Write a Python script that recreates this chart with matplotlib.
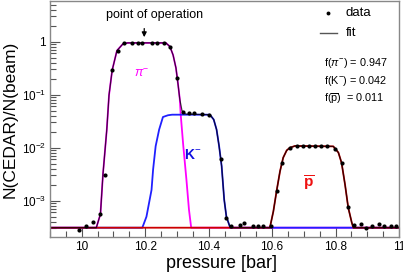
import numpy as np
import matplotlib
matplotlib.use("Agg")
import matplotlib.pyplot as plt
from matplotlib.ticker import FixedLocator, LogLocator, NullFormatter, FuncFormatter

plt.rcParams['font.family'] = ['Liberation Sans', 'DejaVu Sans']
plt.rcParams['mathtext.fontset'] = 'custom'
plt.rcParams['mathtext.rm'] = 'Liberation Sans'
plt.rcParams['mathtext.it'] = 'Liberation Sans:italic'
plt.rcParams['mathtext.bf'] = 'Liberation Sans:bold'

# measured points
data_x = [9.991, 10.014, 10.036, 10.059, 10.073, 10.096, 10.115, 10.132, 10.160, 10.176,
          10.191, 10.220, 10.236, 10.259, 10.278, 10.300, 10.319, 10.339, 10.354, 10.378,
          10.401, 10.438, 10.454, 10.471, 10.500, 10.512, 10.540, 10.556, 10.571, 10.598,
          10.614, 10.630, 10.656, 10.680, 10.698, 10.716, 10.735, 10.753, 10.772, 10.798,
          10.819, 10.840, 10.859, 10.879, 10.896, 10.914, 10.937, 10.953, 10.974, 10.990]
data_y = [2.8e-4, 3.4e-4, 3.9e-4, 5.6e-4, 3.1e-3, 0.29, 0.68, 0.93, 0.95, 0.95,
          0.95, 0.95, 0.95, 0.95, 0.80, 0.21, 0.047, 0.045, 0.045, 0.044,
          0.042, 6.0e-3, 4.8e-4, 3.4e-4, 3.5e-4, 3.8e-4, 3.4e-4, 3.4e-4, 3.4e-4, 3.4e-4,
          1.5e-3, 5.2e-3, 9.8e-3, 0.0108, 0.0108, 0.0108, 0.0108, 0.0108, 0.0108, 0.0093,
          5.2e-3, 7.5e-4, 3.5e-4, 3.6e-4, 3.0e-4, 3.4e-4, 3.6e-4, 3.4e-4, 3.4e-4, 3.4e-4]

# fit components
pi_x = [9.9, 10.046, 10.059, 10.067, 10.079, 10.086, 10.096, 10.111, 10.130, 10.145,
        10.265, 10.278, 10.288, 10.297, 10.304, 10.309, 10.312, 10.320, 10.330, 10.338, 10.345, 11.0]
pi_y = [3.1e-4, 3.1e-4, 5.6e-4, 3.2e-3, 0.022, 0.098, 0.29, 0.68, 0.91, 0.95,
        0.95, 0.81, 0.56, 0.32, 0.15, 0.083, 0.042, 0.011, 2.5e-3, 6.8e-4, 3.1e-4, 3.1e-4]

k_x = [9.9, 10.191, 10.204, 10.220, 10.225, 10.233, 10.244, 10.256, 10.272, 10.285,
       10.404, 10.416, 10.425, 10.433, 10.441, 10.449, 10.456, 10.468, 11.0]
k_y = [3.1e-4, 3.1e-4, 5.0e-4, 1.6e-3, 3.9e-3, 0.0107, 0.022, 0.038, 0.041, 0.042,
       0.042, 0.034, 0.022, 0.0107, 4.5e-3, 1.05e-3, 5.0e-4, 3.1e-4, 3.1e-4]

pbar_x = [9.9, 10.593, 10.604, 10.614, 10.625, 10.635, 10.646, 10.656, 10.672,
          10.793, 10.809, 10.819, 10.830, 10.840, 10.851, 10.856, 11.0]
pbar_y = [3.1e-4, 3.1e-4, 6.3e-4, 1.5e-3, 3.6e-3, 6.5e-3, 8.9e-3, 0.010, 0.0108,
          0.0106, 8.1e-3, 5.2e-3, 2.0e-3, 7.4e-4, 3.9e-4, 3.1e-4, 3.1e-4]

fit_x = [9.9, 10.046, 10.059, 10.067, 10.079, 10.086, 10.096, 10.111, 10.130, 10.145,
         10.265, 10.278, 10.288, 10.297, 10.304, 10.309, 10.316, 10.325, 10.33,
         10.404, 10.416, 10.425, 10.433, 10.441, 10.449, 10.456, 10.468,
         10.593, 10.604, 10.614, 10.625, 10.635, 10.646, 10.656, 10.672,
         10.793, 10.809, 10.819, 10.830, 10.840, 10.851, 10.856, 11.0]
fit_y = [3.1e-4, 3.1e-4, 5.6e-4, 3.2e-3, 0.022, 0.098, 0.29, 0.68, 0.91, 0.95,
         0.95, 0.81, 0.56, 0.32, 0.15, 0.083, 0.05, 0.044, 0.043,
         0.042, 0.034, 0.022, 0.0107, 4.5e-3, 1.05e-3, 5.0e-4, 3.1e-4,
         3.1e-4, 6.3e-4, 1.5e-3, 3.6e-3, 6.5e-3, 8.9e-3, 0.010, 0.0108,
         0.0106, 8.1e-3, 5.2e-3, 2.0e-3, 7.4e-4, 3.9e-4, 3.1e-4, 3.1e-4]

fractions = ["f($\\pi^{-}$) = 0.947", "f(K$^{-}$) = 0.042", "f($\\overline{\\mathrm{p}}$)  = 0.011"]

fig = plt.figure(figsize=(4.03, 2.74), dpi=100)
ax = fig.add_axes([50/403, 37/274, 349/403, 236/274])

ax.plot(pi_x, pi_y, color='#ff00ff', lw=1.3)
ax.plot(k_x, k_y, color='#2020ff', lw=1.3)
ax.plot(pbar_x, pbar_y, color='#cc0000', lw=1.3)
ax.plot(fit_x, fit_y, color='black', lw=0.9, alpha=0.75)
ax.plot(data_x, data_y, 'o', color='black', ms=3.0, mew=0)

ax.set_yscale('log')
ax.set_xlim(9.9, 11.0)
ax.set_ylim(2.07e-4, 5.86)

ax.xaxis.set_major_locator(FixedLocator([10, 10.2, 10.4, 10.6, 10.8, 11]))
ax.xaxis.set_minor_locator(FixedLocator(np.arange(9.9, 11.001, 0.05)))
ax.xaxis.set_major_formatter(FuncFormatter(lambda v, p: "%g" % round(v, 1)))
ax.yaxis.set_major_locator(LogLocator(base=10, numticks=10))
ax.yaxis.set_minor_locator(LogLocator(base=10, subs=np.arange(2, 10), numticks=20))
ax.yaxis.set_minor_formatter(NullFormatter())

def ylab(v, p):
    e = int(round(np.log10(v)))
    if e == 0:
        return "1"
    return "$10^{%d}$" % e
ax.yaxis.set_major_formatter(FuncFormatter(ylab))

ax.tick_params(which='both', direction='in', top=False, right=False, color='#555555',
               labelsize=8.5, width=0.8)
ax.tick_params(which='major', length=7, pad=3)
ax.tick_params(which='minor', length=4)
for s in ax.spines.values():
    s.set_color('#888888')
    s.set_linewidth(1.0)

ax.set_xlabel("pressure [bar]", fontsize=13)
ax.xaxis.set_label_coords(0.49, -0.075)
ax.set_ylabel("N(CEDAR)/N(beam)", fontsize=12.5, va='center')
ax.yaxis.set_label_coords(-0.115, 0.5)

# component labels
ax.text(10.189, 0.245, "$\\pi^{-}$", color='#ff00ff', fontsize=9, ha='center', va='center')
ax.text(10.35, 7.3e-3, "$\\mathbf{K}^{-}$", color='#1010e0', fontsize=10, ha='center', va='center')
ax.text(10.716, 2.15e-3, "$\\mathbf{\\overline{p}}$", color='#ee1111', fontsize=11, ha='center', va='center')

# point of operation
ax.text(0.301, 0.94, "point of operation", transform=ax.transAxes, fontsize=9,
        ha='center', va='center')
ax.annotate("", xy=(10.197, 0.835), xycoords=('data', 'axes fraction'),
            xytext=(10.197, 0.895), textcoords=('data', 'axes fraction'),
            arrowprops=dict(arrowstyle='-|>', color='black', lw=0.9, mutation_scale=7))

# legend
ax.plot([0.797], [0.949], 'o', color='black', ms=2.8, mew=0, transform=ax.transAxes)
ax.text(0.848, 0.949, "data", transform=ax.transAxes, fontsize=9.5, va='center')
ax.plot([0.774, 0.822], [0.864, 0.864], color='#555555', lw=1.0, transform=ax.transAxes)
ax.text(0.848, 0.864, "fit", transform=ax.transAxes, fontsize=9.5, va='center')
for i, t in enumerate(fractions):
    ax.text(0.785, 0.737 - i * 0.076, t, transform=ax.transAxes, fontsize=7.8, va='center')

fig.savefig("out.png", dpi=100)
